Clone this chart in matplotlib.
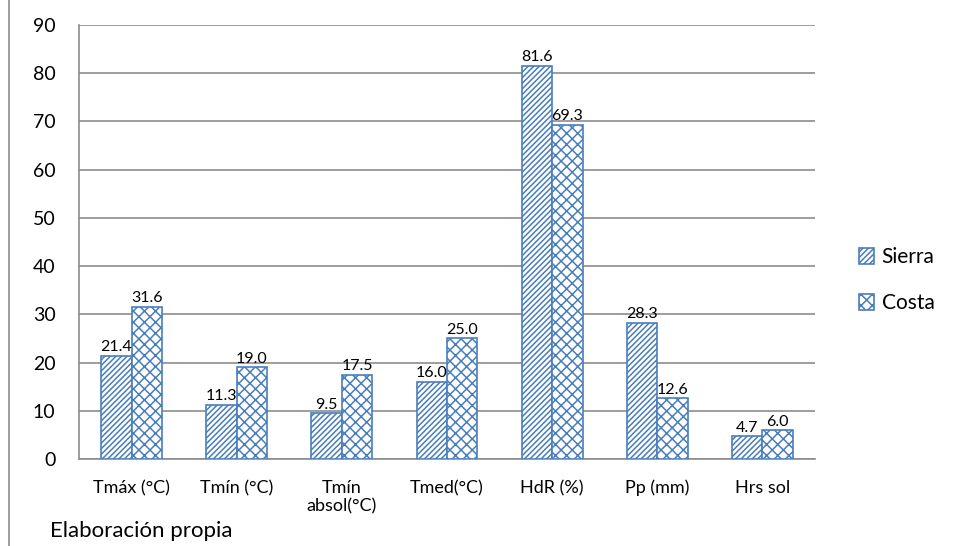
import matplotlib.pyplot as plt
import numpy as np
from matplotlib.lines import Line2D

plt.rcParams['font.family'] = ['Lato', 'DejaVu Sans']
plt.rcParams['hatch.linewidth'] = 1.1

categorias = ['Tmáx (°C)', 'Tmín (°C)', 'Tmín\nabsol(°C)', 'Tmed(°C)',
              'HdR (%)', 'Pp (mm)', 'Hrs sol']
sierra = [21.4, 11.3, 9.5, 16.0, 81.6, 28.3, 4.7]
costa = [31.6, 19.0, 17.5, 25.0, 69.3, 12.6, 6.0]

azul = '#4a7ebb'

fig = plt.figure(figsize=(9.55, 5.46), dpi=100)
ax = fig.add_axes([79 / 955, 1 - 459 / 546, (815 - 79) / 955, (459 - 25) / 546])

x = np.arange(len(categorias))
w = 0.29
b1 = ax.bar(x - w / 2, sierra, w, facecolor='white', edgecolor=azul,
            hatch='//////', linewidth=1.2, label='Sierra', zorder=3)
b2 = ax.bar(x + w / 2, costa, w, facecolor='white', edgecolor=azul,
            hatch='xxx', linewidth=1.2, label='Costa', zorder=3)

for bars, vals in [(b1, sierra), (b2, costa)]:
    for r, v in zip(bars, vals):
        ax.text(r.get_x() + r.get_width() / 2, v + 0.3, '%.1f' % v,
                ha='center', va='bottom', fontsize=11.5, color='black')

ax.set_ylim(0, 90)
ax.set_xlim(-0.5, len(categorias) - 0.5)
ax.set_yticks(range(0, 91, 10))
ax.set_xticks(x)
ax.set_xticklabels(categorias, fontsize=13)
ax.tick_params(axis='y', labelsize=14, length=0, pad=17)
ax.tick_params(axis='x', length=0, pad=15)
ax.grid(axis='y', color='#8c8c8c', linewidth=1.2, zorder=0)
for s in ['top', 'right']:
    ax.spines[s].set_visible(False)
for s in ['left', 'bottom']:
    ax.spines[s].set_color('#8c8c8c')
    ax.spines[s].set_linewidth(1.2)

ax.legend(loc='center left', bbox_to_anchor=(1.034, 0.412), frameon=False,
          fontsize=15, handlelength=0.75, handleheight=0.75,
          handletextpad=0.35, labelspacing=1.25)

fig.add_artist(Line2D([9 / 955, 9 / 955], [0, 1], color='#8c8c8c', linewidth=1.2))
fig.text(50 / 955, 1 - 537 / 546, 'Elaboración propia', fontsize=16,
         ha='left', va='baseline')

plt.savefig('out.png', dpi=100)
